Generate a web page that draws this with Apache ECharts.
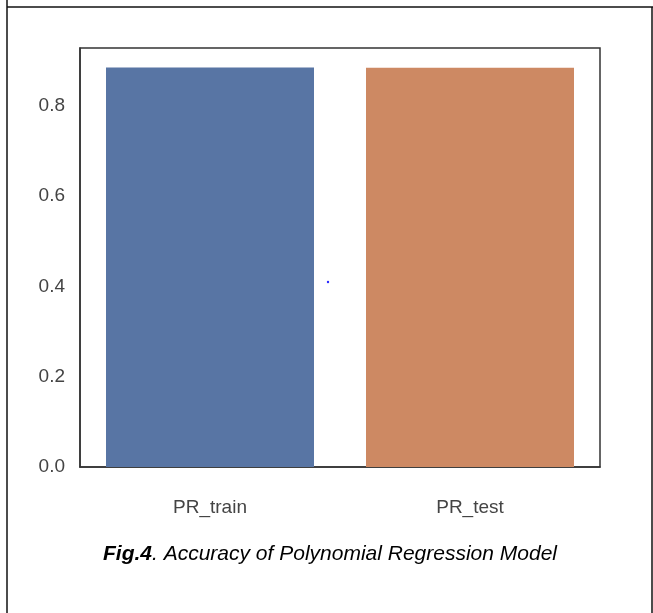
<!DOCTYPE html>
<html>
<head>
<meta charset="utf-8">
<script src="https://cdn.jsdelivr.net/npm/echarts@6/dist/echarts.min.js"></script>
<style>
html,body{margin:0;padding:0;background:#fff;}
#c{width:653px;height:613px;}
</style>
</head>
<body>
<div id="c"></div>
<script>
var categories = ['PR_train', 'PR_test'];
var accuracy = [0.885, 0.884];
var barColors = ['#5875A4', '#CD8963'];
var yTicks = [0.0, 0.2, 0.4, 0.6, 0.8];
var caption = ['Fig.4', '. Accuracy of Polynomial Regression Model'];

var chart = echarts.init(document.getElementById('c'), null, {renderer: 'canvas'});
var tickFont = "'Liberation Sans Narrow', 'Liberation Sans', Arial, sans-serif";
chart.setOption({
  animation: false,
  backgroundColor: '#ffffff',
  grid: {
    left: 80, right: 53, top: 48, bottom: 146,
    show: true, borderColor: '#333333', borderWidth: 1.5, backgroundColor: 'transparent'
  },
  xAxis: {
    type: 'category',
    data: categories,
    axisLine: {show: true, lineStyle: {color: '#333333', width: 1.5}},
    axisTick: {show: false},
    axisLabel: {color: '#444444', fontSize: 19, fontFamily: tickFont, margin: 31},
    splitLine: {show: false}
  },
  yAxis: {
    type: 'value',
    min: 0, max: 0.928, interval: 0.2,
    axisLine: {show: true, lineStyle: {color: '#333333', width: 1.5}},
    axisTick: {show: false},
    splitLine: {show: false},
    axisLabel: {
      color: '#444444', fontSize: 19, fontFamily: tickFont, margin: 15,
      showMaxLabel: false,
      formatter: function (v) {
        for (var i = 0; i < yTicks.length; i++) {
          if (Math.abs(yTicks[i] - v) < 1e-6) return yTicks[i].toFixed(1);
        }
        return '';
      }
    }
  },
  series: [{
    type: 'bar',
    barWidth: '80%',
    data: accuracy.map(function (v, i) { return {value: v, itemStyle: {color: barColors[i]}}; })
  }],
  graphic: [
    {type: 'line', shape: {x1: 7, y1: 0, x2: 7, y2: 613}, style: {stroke: '#111', lineWidth: 1.5}},
    {type: 'line', shape: {x1: 7, y1: 7, x2: 653, y2: 7}, style: {stroke: '#111', lineWidth: 1.5}},
    {type: 'line', shape: {x1: 652, y1: 7, x2: 652, y2: 613}, style: {stroke: '#111', lineWidth: 1.5}},
    {type: 'circle', shape: {cx: 328, cy: 282, r: 1.2}, style: {fill: '#2a2aff'}},
    {
      type: 'text', left: 103, top: 544,
      style: {
        rich: {
          b: {fontSize: 21, fontStyle: 'italic', fontWeight: 'bold', fontFamily: "'Liberation Sans', Arial, sans-serif", fill: '#000'},
          n: {fontSize: 21, fontStyle: 'italic', fontFamily: "'Liberation Sans', Arial, sans-serif", fill: '#000'}
        },
        text: '{b|' + caption[0] + '}{n|' + caption[1] + '}'
      }
    }
  ]
});
</script>
</body>
</html>
